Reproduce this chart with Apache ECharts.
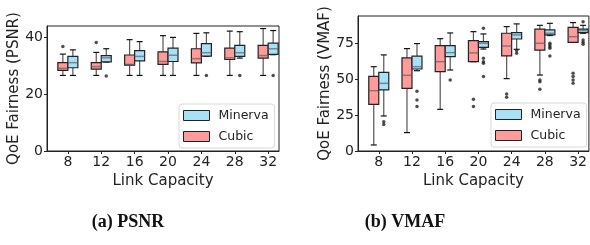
<!DOCTYPE html>
<html>
<head>
<meta charset="utf-8">
<script src="https://cdn.jsdelivr.net/npm/echarts@6/dist/echarts.min.js"></script>
<style>
  html, body { margin: 0; padding: 0; background: #fff; }
  #chart { width: 590px; height: 245px; }
</style>
</head>
<body>
<div id="chart"></div>
<script>
// link capacities (x positions and tick labels)
var capacities = [8, 12, 16, 20, 24, 28, 32];
var psnrTicks = [0, 20, 40];
var vmafTicks = [0, 25, 50, 75];

// box stats per capacity: [min, q1, median, q3, max]
var cubicPsnr = [
    [26.6, 28.4, 29.1, 31.1, 34.1],
    [26.6, 28.8, 29.7, 31.1, 34.7],
    [26.6, 30.2, 30.5, 33.8, 39.2],
    [26.6, 30.5, 31.5, 34.9, 40.6],
    [26.6, 31.0, 32.5, 36.0, 41.4],
    [26.6, 32.2, 32.8, 36.2, 42.2],
    [26.6, 32.7, 33.6, 37.2, 43.1]
];
var minervaPsnr = [
    [26.6, 29.3, 31.1, 33.3, 35.6],
    [31.3, 31.4, 32.8, 33.6, 36.0],
    [26.6, 31.7, 33.3, 35.3, 38.5],
    [26.6, 31.5, 33.7, 36.2, 40.0],
    [33.3, 33.4, 34.6, 37.8, 41.6],
    [32.7, 33.3, 34.6, 37.2, 42.0],
    [33.9, 34.0, 36.0, 38.0, 42.4]
];
var cubicVmaf = [
    [4.2, 32.5, 42.0, 52.0, 58.7],
    [12.8, 43.6, 52.7, 64.8, 71.3],
    [29.0, 55.3, 62.2, 73.4, 78.2],
    [62.2, 62.2, 68.3, 76.9, 83.1],
    [50.4, 66.2, 73.1, 82.0, 86.6],
    [52.9, 70.3, 75.0, 84.8, 87.5],
    [75.7, 75.7, 79.6, 86.1, 89.4]
];
var minervaVmaf = [
    [24.4, 42.5, 47.1, 54.8, 66.9],
    [55.9, 57.1, 58.7, 66.0, 74.8],
    [56.4, 65.7, 68.5, 73.4, 82.2],
    [71.0, 72.2, 75.0, 76.1, 81.5],
    [70.8, 78.0, 80.8, 82.4, 88.5],
    [80.4, 80.8, 82.0, 84.3, 88.9],
    [82.0, 82.4, 83.8, 84.8, 87.5]
];

// outliers: [capacity, value]
var cubicPsnrOut = [[8, 36.8], [12, 38.2]];
var minervaPsnrOut = [[12, 26.4], [24, 26.6], [28, 26.6], [32, 26.6]];
var cubicVmafOut = [
    [20, 36.0], [20, 30.9], [24, 39.7], [24, 37.4],
    [28, 49.5], [28, 48.3], [28, 43.0],
    [32, 54.1], [32, 51.8], [32, 49.5], [32, 47.2]
];
var minervaVmafOut = [
    [8, 20.4], [8, 18.4], [12, 41.6], [12, 35.5], [12, 30.9], [16, 49.5],
    [20, 85.4], [20, 64.6], [20, 62.2], [20, 61.1], [20, 51.8],
    [24, 69.9], [24, 68.0],
    [28, 75.0], [28, 73.8], [28, 72.6], [28, 71.5], [28, 66.2],
    [32, 90.0], [32, 77.3], [32, 75.7], [32, 74.3]
];

var FONT = 'DejaVu Sans';
var CUBIC = '#ff9b9b';
var MINERVA = '#a8e0f8';
var BOX_W = 10, CAP_W = 6;

function boxData(stats) {
    return stats.map(function (s, i) { return [capacities[i]].concat(s); });
}

function boxRenderer(offset) {
    return function (params, api) {
        var x = api.value(0);
        var lo = api.coord([x, api.value(1)]);
        var q1 = api.coord([x, api.value(2)]);
        var md = api.coord([x, api.value(3)]);
        var q3 = api.coord([x, api.value(4)]);
        var hi = api.coord([x, api.value(5)]);
        var cx = lo[0] + offset;
        var hw = BOX_W / 2, cw = CAP_W / 2;
        var fill = api.visual('color');
        var wStyle = { stroke: '#555', lineWidth: 1.2 };
        var cStyle = { stroke: '#111', lineWidth: 1.2 };
        return {
            type: 'group',
            children: [
                { type: 'line', shape: { x1: cx, y1: q3[1], x2: cx, y2: hi[1] }, style: wStyle },
                { type: 'line', shape: { x1: cx, y1: q1[1], x2: cx, y2: lo[1] }, style: wStyle },
                { type: 'line', shape: { x1: cx - cw, y1: hi[1], x2: cx + cw, y2: hi[1] }, style: cStyle },
                { type: 'line', shape: { x1: cx - cw, y1: lo[1], x2: cx + cw, y2: lo[1] }, style: cStyle },
                { type: 'rect', shape: { x: cx - hw, y: q3[1], width: BOX_W, height: q1[1] - q3[1] },
                  style: { fill: fill, stroke: '#222', lineWidth: 1.2 } },
                { type: 'line', shape: { x1: cx - hw, y1: md[1], x2: cx + hw, y2: md[1] },
                  style: { stroke: 'rgba(90,90,90,0.65)', lineWidth: 1.5 } }
            ]
        };
    };
}

function boxSeries(name, stats, idx, offset, color) {
    return {
        name: name,
        type: 'custom',
        xAxisIndex: idx,
        yAxisIndex: idx,
        renderItem: boxRenderer(offset),
        encode: { x: 0, y: [1, 2, 3, 4, 5] },
        itemStyle: { color: color, borderColor: '#222', borderWidth: 1 },
        data: boxData(stats),
        z: 2
    };
}

function outSeries(name, pts, idx, offset) {
    return {
        name: name,
        type: 'scatter',
        xAxisIndex: idx,
        yAxisIndex: idx,
        symbol: 'circle',
        symbolSize: 3.5,
        symbolOffset: [offset, 0],
        itemStyle: { color: '#222' },
        data: pts,
        z: 3
    };
}

function xAxisOf(idx) {
    return {
        type: 'value', gridIndex: idx, min: 5.5, max: 33.3,
        name: 'Link Capacity', nameLocation: 'middle', nameGap: 17,
        nameTextStyle: { fontFamily: FONT, fontSize: 15, color: '#222' },
        axisLine: { lineStyle: { color: '#222', width: 1 } },
        axisTick: { show: true, length: 3, customValues: capacities, lineStyle: { color: '#222' } },
        axisLabel: { customValues: capacities, fontFamily: FONT, fontSize: 14, color: '#222', margin: 4 },
        splitLine: { show: false }
    };
}

function yAxisOf(idx, max, ticks, name) {
    return {
        type: 'value', gridIndex: idx, min: 0, max: max,
        name: name, nameLocation: 'middle', nameGap: 22,
        nameTextStyle: { fontFamily: FONT, fontSize: 15, color: '#222' },
        axisLine: { show: true, lineStyle: { color: '#222', width: 1 } },
        axisTick: { show: true, length: 3, customValues: ticks, lineStyle: { color: '#222' } },
        axisLabel: { customValues: ticks, fontFamily: FONT, fontSize: 14, color: '#222', margin: 4 },
        splitLine: { show: false }
    };
}

function legendOf(left, top) {
    return {
        left: left, top: top, orient: 'vertical',
        data: [{ name: 'Minerva', icon: 'rect' }, { name: 'Cubic', icon: 'rect' }],
        itemWidth: 26, itemHeight: 10, itemGap: 8,
        padding: [5, 6, 5, 4],
        backgroundColor: '#fff', borderColor: '#d8d8d8', borderWidth: 1, borderRadius: 3,
        itemStyle: { borderColor: '#222', borderWidth: 1 },
        textStyle: { fontFamily: FONT, fontSize: 12.5, color: '#222', padding: [0, 0, 0, 4] }
    };
}

var dom = document.getElementById('chart');
var myChart = echarts.init(dom, null, { renderer: 'canvas' });
var option = {
    animation: false,
    backgroundColor: '#fff',
    grid: [
        { left: 47, top: 26, width: 232, height: 125, show: true, borderColor: '#222', borderWidth: 1 },
        { left: 358, top: 16, width: 231, height: 135, show: true, borderColor: '#222', borderWidth: 1 }
    ],
    xAxis: [xAxisOf(0), xAxisOf(1)],
    yAxis: [
        yAxisOf(0, 44, psnrTicks, 'QoE Fairness (PSNR)'),
        yAxisOf(1, 94, vmafTicks, 'QoE Fairness (VMAF)')
    ],
    legend: [legendOf(179, 104), legendOf(491, 103)],
    graphic: [
        { type: 'text', x: 128, y: 222, style: { text: '(a) PSNR', fontFamily: 'Liberation Serif', fontWeight: 'bold', fontSize: 18, fill: '#111', textAlign: 'center', textVerticalAlign: 'middle' } },
        { type: 'text', x: 405, y: 222, style: { text: '(b) VMAF', fontFamily: 'Liberation Serif', fontWeight: 'bold', fontSize: 18, fill: '#111', textAlign: 'center', textVerticalAlign: 'middle' } }
    ],
    series: [
        boxSeries('Cubic', cubicPsnr, 0, -5, CUBIC),
        boxSeries('Minerva', minervaPsnr, 0, 5, MINERVA),
        outSeries('Cubic outliers', cubicPsnrOut, 0, -5),
        outSeries('Minerva outliers', minervaPsnrOut, 0, 5),
        boxSeries('Cubic', cubicVmaf, 1, -5, CUBIC),
        boxSeries('Minerva', minervaVmaf, 1, 5, MINERVA),
        outSeries('Cubic outliers', cubicVmafOut, 1, -5),
        outSeries('Minerva outliers', minervaVmafOut, 1, 5)
    ]
};
myChart.setOption(option);
</script>
</body>
</html>
